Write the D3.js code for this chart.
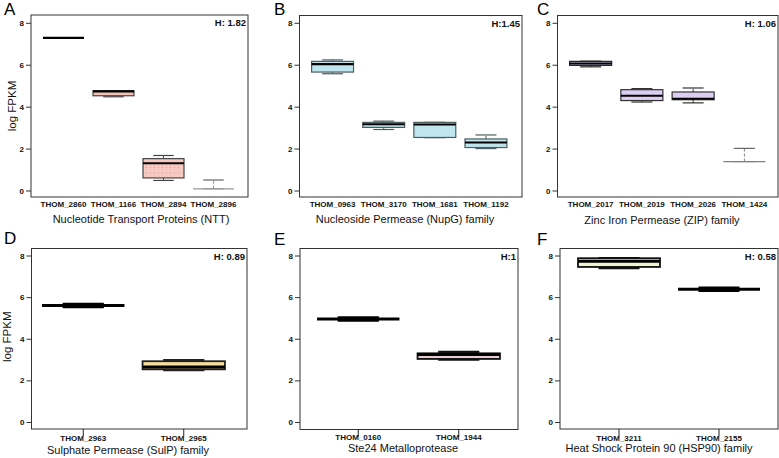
<!DOCTYPE html>
<html><head><meta charset="utf-8">
<script src="https://cdn.jsdelivr.net/npm/d3@7"></script>
<style>
body{margin:0;background:#fff}
svg{display:block;font-family:"Liberation Sans",Arial,Helvetica,sans-serif}
</style></head><body>
<svg id="chart" width="779" height="458"></svg>
<script>
// ---------------- data ----------------
const yTicks = [0, 2, 4, 6, 8];
const panelLetters = ["A", "B", "C", "D", "E", "F"];
const panelTitles = [
  "Nucleotide Transport Proteins (NTT)",
  "Nucleoside Permease (NupG) family",
  "Zinc Iron Permease (ZIP) family",
  "Sulphate Permease (SulP) family",
  "Ste24 Metalloprotease",
  "Heat Shock Protein 90 (HSP90) family"
];
const hLabels = ["H: 1.82", "H:1.45", "H: 1.06", "H: 0.89", "H:1", "H: 0.58"];

// stats: [lower whisker, Q1, median, Q3, upper whisker] (log FPKM)
const catsA = ["THOM_2860", "THOM_1166", "THOM_2894", "THOM_2896"];
const statsA = [[7.27, 7.28, 7.28, 7.28, 7.29], [4.47, 4.52, 4.73, 4.76, 4.76], [0.48, 0.6, 1.3, 1.52, 1.67], [0.08, 0.08, 0.08, 0.08, 0.5]];
const dotsA2894 = [1.1, 0.84];

const catsB = ["THOM_0963", "THOM_3170", "THOM_1681", "THOM_1192"];
const statsB = [[5.57, 5.65, 6.03, 6.16, 6.23], [2.91, 3.01, 3.16, 3.25, 3.31], [2.52, 2.53, 3.15, 3.25, 3.25], [2.0, 2.05, 2.29, 2.46, 2.65]];

const catsC = ["THOM_2017", "THOM_2019", "THOM_2026", "THOM_1424"];
const statsC = [[5.9, 5.97, 6.06, 6.16, 6.17], [4.22, 4.29, 4.52, 4.81, 4.86], [4.18, 4.33, 4.38, 4.7, 4.89], [1.38, 1.38, 1.38, 1.38, 2.01]];

const catsD = ["THOM_2963", "THOM_2965"];
const statsD = [[5.53, 5.6, 5.6, 5.6, 5.67], [2.5, 2.53, 2.64, 2.92, 2.97]];

const catsE = ["THOM_0160", "THOM_1944"];
const statsE = [[4.88, 4.95, 4.95, 4.95, 5.02], [3.0, 3.03, 3.24, 3.3, 3.36]];

const catsF = ["THOM_3211", "THOM_2155"];
const statsF = [[7.4, 7.45, 7.72, 7.87, 7.87], [6.31, 6.38, 6.38, 6.38, 6.45]];

// ---------------- styles ----------------
const fills = [
  ["#000", "#f4c1b6", "#f7c9c0", "none"],
  ["#bfe6ee", "#bfe6ee", "#bfe6ee", "#bfe6ee"],
  ["#dccdf2", "#dccdf2", "#dccdf2", "none"],
  ["#f4e3a6", "#f6df9c"],
  ["#e6cdd0", "#e8cdd0"],
  ["#ecf6cc", "#000"]
];
const strokes = [
  ["#111", "#444", "#444", "#9a9a9a"],
  ["#4f5d62", "#4f5d62", "#4f5d62", "#4f5d62"],
  ["#222", "#333", "#333", "#808080"],
  ["#000", "#222"],
  ["#000", "#111"],
  ["#111", "#000"]
];

// ---------------- layout ----------------
const catsAll = [catsA, catsB, catsC, catsD, catsE, catsF];
const statsAll = [statsA, statsB, statsC, statsD, statsE, statsF];
const frames = [
  {x0: 31, x1: 248, y0: 15, y1: 197, b0: 38.5, b1: 238.5},
  {x0: 299.5, x1: 522, y0: 15.5, y1: 197, b0: 307, b1: 511.5},
  {x0: 557.5, x1: 778, y0: 15.5, y1: 197, b0: 565, b1: 770},
  {x0: 31.5, x1: 247, y0: 248.5, y1: 429, b0: 33, b1: 234},
  {x0: 300, x1: 518, y0: 248.5, y1: 429.5, b0: 308, b1: 509},
  {x0: 560, x1: 778, y0: 248.5, y1: 429, b0: 569, b1: 769}
];
const titlePos = [[141, 223], [405, 223], [662, 224], [128, 454], [403, 452], [659, 452]];
const letterPos = [[4, 15], [274, 15], [537, 15], [4, 244], [274, 245], [537, 245]];
const rowY = [[190.5, 22.8], [422, 255.5]];

const svg = d3.select("#chart");

panelLetters.forEach((letter, i) => {
  const f = frames[i];
  const bottomRow = i >= 3;
  const y = d3.scaleLinear().domain([0, 8]).range(rowY[bottomRow ? 1 : 0]);
  const x = d3.scaleBand().domain(catsAll[i]).range([f.b0, f.b1]).padding(0);
  const boxW = x.bandwidth() * 0.82;
  const capW = boxW / 2;
  const g = svg.append("g");

  const lw = bottomRow ? {box: 1.8, med: 3, cap: 2.5, wh: 2} : {box: 1.2, med: 2.1, cap: 1.2, wh: 1};

  // boxes
  catsAll[i].forEach((c, j) => {
    const s = statsAll[i][j];
    const cx = x(c) + x.bandwidth() / 2;
    const col = strokes[i][j];
    const grey = (col === "#9a9a9a" || col === "#808080");
    const bg = g.append("g");
    // whiskers
    if (s[4] > s[3]) bg.append("line").attr("x1", cx).attr("x2", cx).attr("y1", y(s[3])).attr("y2", y(s[4]))
      .attr("stroke", col).attr("stroke-width", lw.wh).attr("stroke-dasharray", bottomRow ? null : "3,2");
    if (s[1] > s[0]) bg.append("line").attr("x1", cx).attr("x2", cx).attr("y1", y(s[0])).attr("y2", y(s[1]))
      .attr("stroke", col).attr("stroke-width", lw.wh).attr("stroke-dasharray", bottomRow ? null : "3,2");
    // caps
    [s[0], s[4]].forEach(v => {
      bg.append("line").attr("x1", cx - capW / 2).attr("x2", cx + capW / 2).attr("y1", y(v)).attr("y2", y(v))
        .attr("stroke", grey && v === s[4] ? "#666" : col).attr("stroke-width", lw.cap);
    });
    // box
    bg.append("rect").attr("x", cx - boxW / 2).attr("width", boxW)
      .attr("y", y(s[3])).attr("height", Math.max(0, y(s[1]) - y(s[3])))
      .attr("fill", fills[i][j]).attr("stroke", col).attr("stroke-width", lw.box);
    if (i === 0 && j === 2) {
      dotsA2894.forEach(v => {
        bg.append("line").attr("x1", cx - boxW / 2 + 3).attr("x2", cx + boxW / 2 - 3).attr("y1", y(v)).attr("y2", y(v))
          .attr("stroke", "#c79aa8").attr("stroke-width", 1).attr("stroke-dasharray", "1,3");
      });
    }
    // median
    bg.append("line").attr("x1", cx - boxW / 2).attr("x2", cx + boxW / 2).attr("y1", y(s[2])).attr("y2", y(s[2]))
      .attr("stroke", grey ? col : "#000").attr("stroke-width", grey ? 1.2 : lw.med);
  });

  // frame
  g.append("rect").attr("x", f.x0).attr("y", f.y0).attr("width", f.x1 - f.x0).attr("height", f.y1 - f.y0)
    .attr("fill", "none").attr("stroke", "#333").attr("stroke-width", 1);

  // y axis
  const ya = g.append("g").attr("transform", `translate(${f.x0},0)`)
    .call(d3.axisLeft(y).tickValues(yTicks).tickFormat(d3.format("d")).tickSize(5).tickPadding(2));
  ya.select(".domain").remove();
  ya.selectAll("line").attr("stroke", "#333");
  ya.selectAll("text").attr("font-size", 8).attr("font-weight", "bold").attr("fill", "#111")
    .attr("font-family", "Liberation Sans, Arial, sans-serif");

  // x axis
  const xa = g.append("g").attr("transform", `translate(0,${f.y1})`)
    .call(d3.axisBottom(x).tickSize(bottomRow ? 7 : 0).tickPadding(bottomRow ? (i === 4 ? -2 : -1) : 4));
  xa.select(".domain").remove();
  xa.selectAll("line").attr("stroke", "#222");
  xa.selectAll("text").attr("font-size", 8).attr("font-weight", "bold").attr("fill", "#111")
    .attr("font-family", "Liberation Sans, Arial, sans-serif");

  // x title
  g.append("text").attr("x", titlePos[i][0]).attr("y", titlePos[i][1]).attr("text-anchor", "middle")
    .attr("font-size", 11).attr("fill", "#111").text(panelTitles[i]);

  // H label
  g.append("text").attr("x", f.x1 - 2).attr("y", f.y0 + 11).attr("text-anchor", "end")
    .attr("font-size", 9.5).attr("font-weight", "bold").attr("fill", "#111").text(hLabels[i]);

  // panel letter
  g.append("text").attr("x", letterPos[i][0]).attr("y", letterPos[i][1])
    .attr("font-size", 17).attr("fill", "#000").text(letter);

  // y label
  if (i === 0 || i === 3) {
    const lx = i === 0 ? 16 : 11;
    const ly = (f.y0 + f.y1) / 2 - (i === 0 ? 0 : 2);
    g.append("text").attr("transform", `translate(${lx},${ly}) rotate(-90)`).attr("text-anchor", "middle")
      .attr("font-size", 11.5).attr("fill", "#111").text("log FPKM");
  }
});
</script>
</body></html>
